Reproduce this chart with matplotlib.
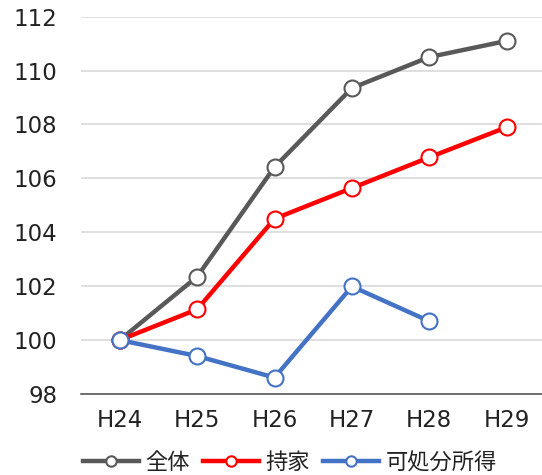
import numpy as np
import matplotlib
matplotlib.use("Agg")
import matplotlib.pyplot as plt

plt.rcParams['font.family'] = ['DejaVu Sans', 'Noto Sans CJK JP']

years = ["H24", "H25", "H26", "H27", "H28", "H29"]
zentai = [100.0, 102.35, 106.42, 109.35, 110.5, 111.1]
mochiie = [100.0, 101.14, 104.5, 105.64, 106.78, 107.9]
kasho = [100.0, 99.41, 98.61, 101.99, 100.70]

series = [
    ("全体", zentai, "#595959"),
    ("持家", mochiie, "#FF0000"),
    ("可処分所得", kasho, "#4472C4"),
]

fig = plt.figure(figsize=(5.42, 4.75), dpi=100)
ax = fig.add_axes([0.1494, 0.1705, 0.857, 0.7945])

x = np.arange(len(years))
for name, vals, col in series:
    ax.plot(x[:len(vals)], vals, color=col, lw=3.2, marker="o", ms=11.5,
            mfc="white", mec=col, mew=1.5, label=name, zorder=3)

ax.set_xlim(-0.5, 5.5)
ax.set_ylim(98, 112)
ax.set_yticks(np.arange(98, 113, 2))
ax.set_xticks(x)
ax.set_xticklabels(years)
ax.grid(axis="y", color="#D9D9D9", lw=1.2, zorder=0)
for s in ["top", "right", "left"]:
    ax.spines[s].set_visible(False)
ax.spines["bottom"].set_color("#595959")
ax.spines["bottom"].set_linewidth(1.2)
ax.tick_params(axis="both", length=0, labelsize=16.5, colors="#222222")
ax.tick_params(axis="y", pad=17)
ax.tick_params(axis="x", pad=11)

leg = fig.legend(loc="lower center", bbox_to_anchor=(0.535, -0.04), ncol=3,
                 frameon=False, handlelength=2.5, columnspacing=0.6,
                 handletextpad=0.3, markerscale=0.65,
                 prop={"family": ["Noto Sans CJK JP", "DejaVu Sans"], "size": 16})
for t in leg.get_texts():
    t.set_color("#222222")

fig.savefig("out.png", dpi=100)
